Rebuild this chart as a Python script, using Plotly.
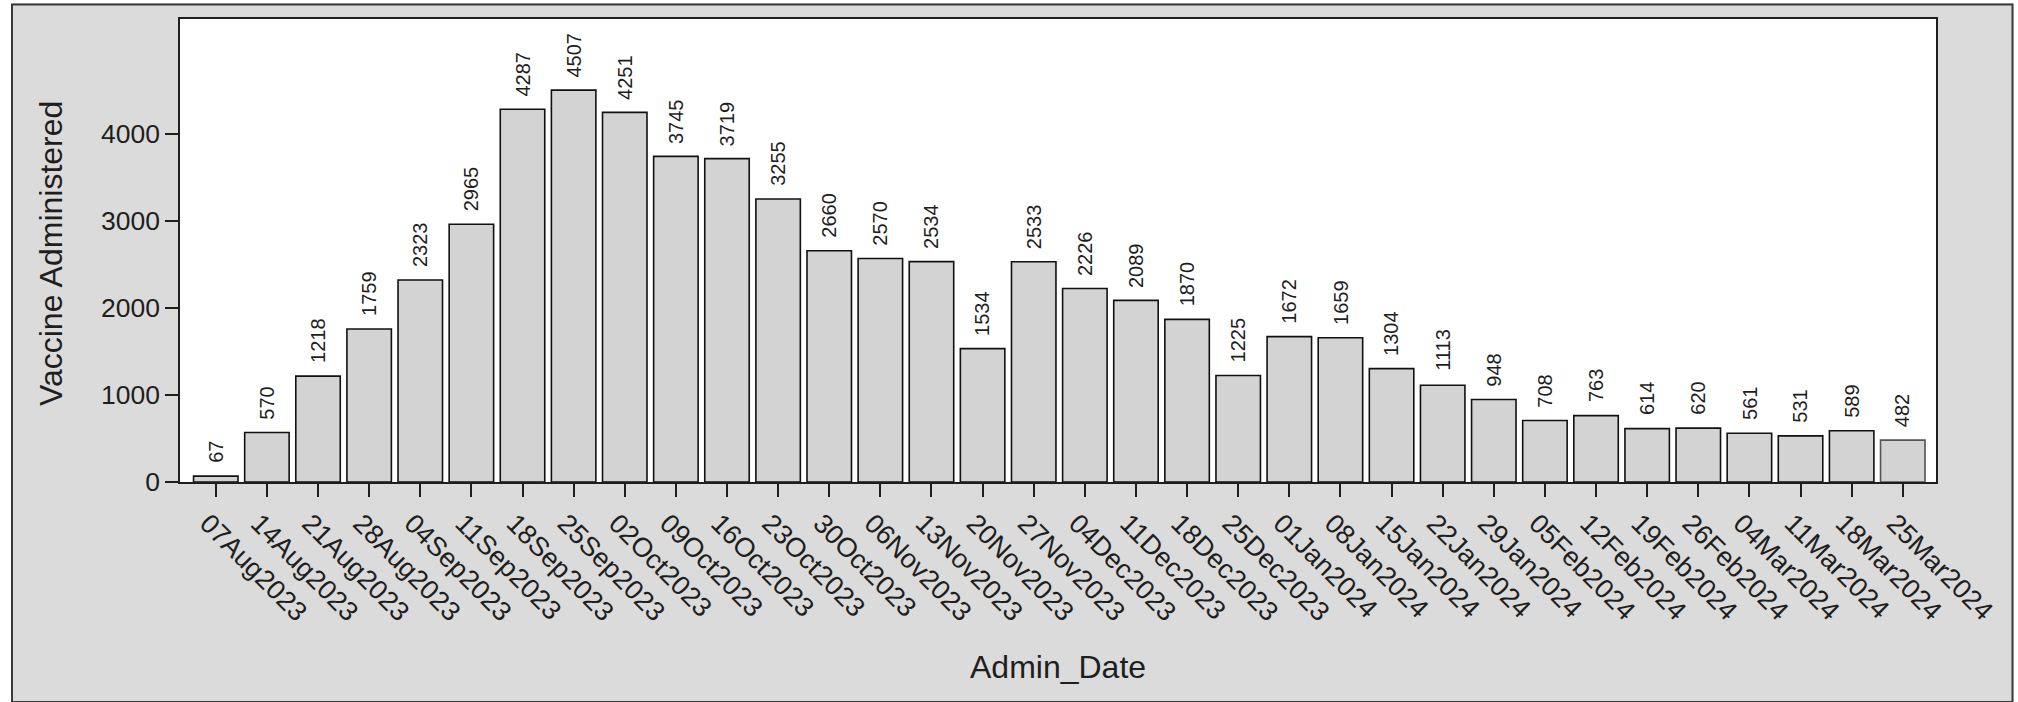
import plotly.graph_objects as go

dates = ["07Aug2023", "14Aug2023", "21Aug2023", "28Aug2023", "04Sep2023", "11Sep2023",
         "18Sep2023", "25Sep2023", "02Oct2023", "09Oct2023", "16Oct2023", "23Oct2023",
         "30Oct2023", "06Nov2023", "13Nov2023", "20Nov2023", "27Nov2023", "04Dec2023",
         "11Dec2023", "18Dec2023", "25Dec2023", "01Jan2024", "08Jan2024", "15Jan2024",
         "22Jan2024", "29Jan2024", "05Feb2024", "12Feb2024", "19Feb2024", "26Feb2024",
         "04Mar2024", "11Mar2024", "18Mar2024", "25Mar2024"]
vaccines = [67, 570, 1218, 1759, 2323, 2965, 4287, 4507, 4251, 3745, 3719, 3255,
            2660, 2570, 2534, 1534, 2533, 2226, 2089, 1870, 1225, 1672, 1659, 1304,
            1113, 948, 708, 763, 614, 620, 561, 531, 589, 482]
y_ticks = [0, 1000, 2000, 3000, 4000]
x_title = "Admin_Date"
y_title = "Vaccine Administered"

W, H = 2018, 702
L, R, T, B = 180, 82, 19, 220
PW, PH = W - L - R, H - T - B


def px_x(px):
    return (px - L) / PW


def px_y(py):
    return (H - B - py) / PH


FONT = "Liberation Sans, Arial, sans-serif"
DARK = "#1e1e1e"
LABEL_SIZE = 20
LABEL_GAP = 13

line_colors = ["#111111"] * (len(vaccines) - 1) + ["#555555"]

fig = go.Figure()
fig.add_trace(go.Bar(
    x=list(range(len(dates))),
    y=vaccines,
    width=0.87,
    marker=dict(color="#d3d3d3", line=dict(color=line_colors, width=1.6)),
    hoverinfo="skip",
))

annotations = []
for i, v in enumerate(vaccines):
    txt = str(v)
    half_len = len(txt) * 0.556 * LABEL_SIZE / 2
    annotations.append(dict(
        x=i, y=v, xref="x", yref="y", text=txt, showarrow=False,
        textangle=-90, yanchor="middle", xanchor="center",
        yshift=LABEL_GAP + half_len, borderpad=0,
        font=dict(family=FONT, size=LABEL_SIZE, color=DARK),
    ))

annotations.append(dict(
    x=0.5, y=px_y(667), xref="paper", yref="paper", text=x_title, showarrow=False,
    xanchor="center", yanchor="middle", font=dict(family=FONT, size=32, color=DARK),
))
annotations.append(dict(
    x=px_x(51), y=px_y(254), xref="paper", yref="paper", text=y_title, showarrow=False,
    textangle=-90, xanchor="center", yanchor="middle",
    font=dict(family=FONT, size=32, color=DARK),
))

shapes = [
    # white page margins outside the grey frame
    dict(type="rect", xref="paper", yref="paper", x0=px_x(0), x1=px_x(11), y0=px_y(H), y1=px_y(0),
         fillcolor="white", line=dict(width=0), layer="above"),
    dict(type="rect", xref="paper", yref="paper", x0=px_x(2013.5), x1=px_x(W), y0=px_y(H), y1=px_y(0),
         fillcolor="white", line=dict(width=0), layer="above"),
    dict(type="rect", xref="paper", yref="paper", x0=px_x(0), x1=px_x(W), y0=px_y(3), y1=px_y(0),
         fillcolor="white", line=dict(width=0), layer="above"),
    # frame border
    dict(type="rect", xref="paper", yref="paper", x0=px_x(12), x1=px_x(2012.5), y0=px_y(702), y1=px_y(4.5),
         fillcolor="rgba(0,0,0,0)", line=dict(color="#3a3a3a", width=2), layer="above"),
]

fig.update_layout(
    width=W, height=H,
    margin=dict(l=L, r=R, t=T, b=B, pad=0),
    paper_bgcolor="#dbdbdb",
    plot_bgcolor="white",
    showlegend=False,
    bargap=0.13,
    font=dict(family=FONT, color=DARK),
    annotations=annotations,
    shapes=shapes,
)
fig.update_xaxes(
    range=[-0.70, 33.65],
    tickmode="array", tickvals=list(range(len(dates))), ticktext=dates,
    tickangle=45, tickfont=dict(family=FONT, size=27, color=DARK),
    ticklabelshift=-8,
    ticks="outside", ticklen=13, tickwidth=1.5, tickcolor=DARK,
    showline=True, linecolor=DARK, linewidth=1.6, mirror=True,
    showgrid=False, zeroline=False, automargin=False,
)
fig.update_yaxes(
    range=[0, 5325],
    tickmode="array", tickvals=y_ticks, ticktext=[str(t) for t in y_ticks],
    tickfont=dict(family=FONT, size=26.5, color=DARK),
    ticks="outside", ticklen=13, tickwidth=1.5, tickcolor=DARK,
    showline=True, linecolor=DARK, linewidth=1.6, mirror=True,
    showgrid=False, zeroline=False, automargin=False,
)

fig.write_html(
    "out.html",
    config={"displayModeBar": False},
    post_script="document.body.style.margin='0px';document.body.style.overflow='hidden';",
)
